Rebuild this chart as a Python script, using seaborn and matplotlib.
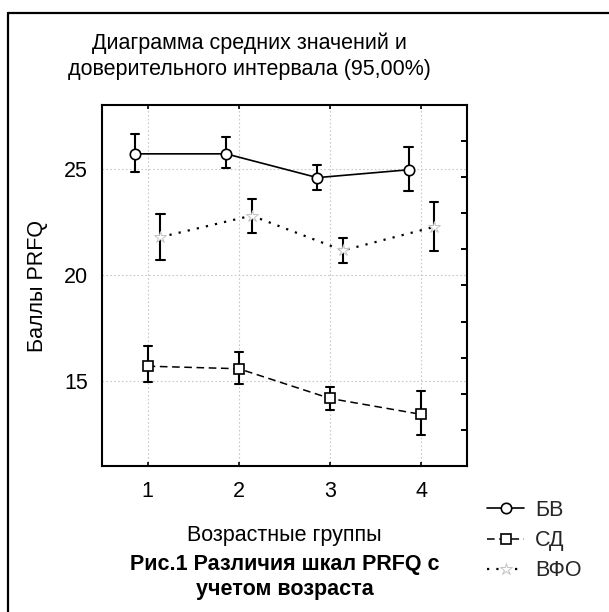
import numpy as np
import pandas as pd
import matplotlib
matplotlib.use("Agg")
import matplotlib.pyplot as plt
from matplotlib.lines import Line2D
from matplotlib.ticker import FixedLocator
import seaborn as sns

# ---- data ----
groups = ["1", "2", "3", "4"]
series = ["БВ", "СД", "ВФО"]

bv_mean = [25.70, 25.70, 24.58, 24.95]
bv_lo = [24.85, 25.02, 24.00, 23.94]
bv_hi = [26.64, 26.50, 25.17, 26.04]

sd_mean = [15.70, 15.58, 14.18, 13.43]
sd_lo = [14.94, 14.86, 13.66, 12.46]
sd_hi = [16.66, 16.37, 14.73, 14.53]

vfo_mean = [21.78, 22.79, 21.15, 22.26]
vfo_lo = [20.72, 21.99, 20.55, 21.14]
vfo_hi = [22.85, 23.56, 21.73, 23.44]

title_text = "Диаграмма средних значений и\nдоверительного интервала (95,00%)"
ylabel_text = "Баллы PRFQ"
xlabel_text = "Возрастные группы"
caption_text = "Рис.1 Различия шкал PRFQ с\nучетом возраста"

# ---- long table: low / mean / high per point (median = mean, range = CI) ----
rows = []
for name, m, lo, hi in [("БВ", bv_mean, bv_lo, bv_hi),
                        ("СД", sd_mean, sd_lo, sd_hi),
                        ("ВФО", vfo_mean, vfo_lo, vfo_hi)]:
    for g, a, b, c in zip(groups, lo, m, hi):
        for v in (a, b, c):
            rows.append({"group": g, "series": name, "value": v})
df = pd.DataFrame(rows)

FS = 15.5
sns.set_theme(style="white")
plt.rcParams["font.family"] = ["Liberation Sans", "DejaVu Sans"]
plt.rcParams["font.size"] = FS

fig = plt.figure(figsize=(6.09, 6.12), dpi=100)
ax = fig.add_axes([102 / 609, 1 - 466 / 612, 365 / 609, 361 / 612])

sns.pointplot(
    data=df, x="group", y="value", hue="series",
    order=groups, hue_order=series,
    estimator="median", errorbar=lambda v: (v.min(), v.max()),
    palette=["black", "black", "black"],
    dodge=0.28, capsize=0.09,
    markers=["o", "s", "*"], linestyles=["-", "--", ":"],
    err_kws={"linewidth": 1.5, "color": "black"},
    legend=False, ax=ax,
)

styles = {
    0: dict(ls="-", marker="o", mfc="white", mec="black", ms=7.5, mew=1.2, lw=1.2),
    1: dict(ls=(0, (5, 3)), marker="s", mfc="white", mec="black", ms=7, mew=1.2, lw=1.1),
    2: dict(ls=(0, (1, 3.2)), marker="*", mfc="white", mec="#c4c4c4", ms=9, mew=0.7, lw=1.6),
}
main_lines = [l for l in ax.lines if len(l.get_xdata()) == 4]
handles = []
for i, l in enumerate(main_lines):
    s = styles[i]
    l.set_linestyle(s["ls"])
    l.set_marker(s["marker"])
    l.set_markerfacecolor(s["mfc"])
    l.set_markeredgecolor(s["mec"])
    l.set_markersize(s["ms"])
    l.set_markeredgewidth(s["mew"])
    l.set_linewidth(s["lw"])
    l.set_color("black")
    l.set_zorder(5)
    handles.append(Line2D([], [], color="black", linestyle=s["ls"], lw=s["lw"],
                          marker=s["marker"], mfc=s["mfc"], mec=s["mec"],
                          ms=s["ms"], mew=s["mew"]))
for l in ax.lines:
    if l not in main_lines:
        l.set_zorder(4)

ax.set_xlim(-0.5, 3.5)
ax.set_ylim(11, 28)
ax.set_yticks([15, 20, 25])
ax.yaxis.set_minor_locator(FixedLocator(np.linspace(11, 28, 11)[1:-1]))
ax.grid(True, which="major", color="#c8c8c8", linestyle=(0, (1.5, 2)), linewidth=0.8)
for sp in ax.spines.values():
    sp.set_visible(True)
    sp.set_color("black")
    sp.set_linewidth(1.5)
ax.tick_params(axis="y", which="major", left=False, right=False, labelsize=FS, pad=4, colors="black")
ax.tick_params(axis="y", which="minor", left=False, right=True, direction="in", length=4, width=1.4, color="black")
ax.tick_params(axis="x", which="major", bottom=True, top=True, direction="in", length=3, width=1.2,
               labelsize=FS, pad=11, colors="black")
ax.set_xlabel("")
ax.set_ylabel(ylabel_text, fontsize=FS, color="black")
ax.yaxis.set_label_coords(-0.148, 0.5)

fig.text(249 / 609, 1 - 56 / 612, title_text, ha="center", va="center",
         fontsize=FS, linespacing=1.3, color="black")
fig.text(284 / 609, 1 - 535 / 612, xlabel_text, ha="center", va="center",
         fontsize=FS, color="black")
fig.text(285 / 609, 1 - 577 / 612, caption_text, ha="center", va="center",
         fontsize=FS, fontweight="bold", linespacing=1.3, color="black")

fig.legend(handles=handles, labels=series, loc="upper left",
           bbox_to_anchor=(487 / 609, 1 - 500 / 612), bbox_transform=fig.transFigure,
           frameon=False, fontsize=FS, handlelength=1.72, handletextpad=0.5,
           labelspacing=0.42, borderpad=0, borderaxespad=0)

# outer frame (left and top edges visible)
fig.add_artist(Line2D([8 / 609, 8 / 609], [0, 1 - 13 / 612], color="black", lw=1.6,
                      transform=fig.transFigure))
fig.add_artist(Line2D([8 / 609, 1], [1 - 13 / 612, 1 - 13 / 612], color="black", lw=1.6,
                      transform=fig.transFigure))

fig.savefig("out.png", dpi=100)
